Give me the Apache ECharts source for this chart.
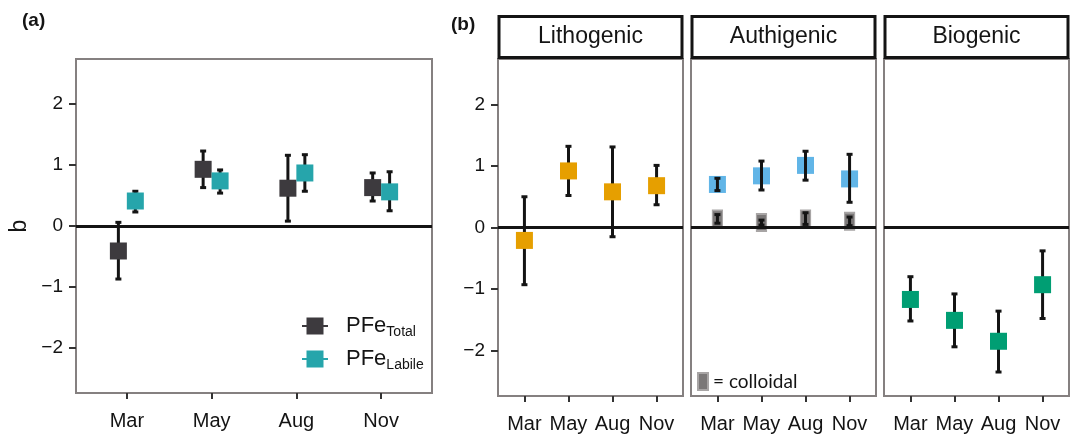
<!DOCTYPE html>
<html>
<head>
<meta charset="utf-8">
<script src="https://cdn.jsdelivr.net/npm/echarts@6/dist/echarts.min.js"></script>
<style>
  html, body { margin: 0; padding: 0; background: #fff; }
  #chart { width: 1080px; height: 437px; }
</style>
</head>
<body>
<div id="chart"></div>
<script>
var months = ['Mar', 'May', 'Aug', 'Nov'];
var yTicks = [-2, -1, 0, 1, 2];
var facets = ['Lithogenic', 'Authigenic', 'Biogenic'];

// (a) estimate b, lower and upper ends of the error bar
var totalB = [-0.41, 0.93, 0.62, 0.63];
var totalLo = [-0.87, 0.63, 0.08, 0.41];
var totalHi = [0.06, 1.23, 1.16, 0.87];
var labileB = [0.41, 0.74, 0.87, 0.56];
var labileLo = [0.23, 0.54, 0.57, 0.25];
var labileHi = [0.57, 0.92, 1.17, 0.89];

// (b) facets
var lithoB = [-0.21, 0.92, 0.58, 0.68];
var lithoLo = [-0.93, 0.52, -0.15, 0.37];
var lithoHi = [0.50, 1.32, 1.31, 1.01];
var authB = [0.70, 0.84, 1.01, 0.79];
var authLo = [0.60, 0.61, 0.77, 0.41];
var authHi = [0.80, 1.08, 1.24, 1.19];
var colloidB = [0.14, 0.08, 0.14, 0.10];
var colloidLo = [0.07, 0.04, 0.05, 0.03];
var colloidHi = [0.21, 0.12, 0.24, 0.17];
var bioB = [-1.17, -1.51, -1.85, -0.93];
var bioLo = [-1.52, -1.94, -2.35, -1.48];
var bioHi = [-0.80, -1.08, -1.36, -0.38];

var FONT = 'Liberation Sans, Arial, sans-serif';
var INK = '#141414';
var FRAME = '#858080';

// grid boxes: (a) then the three facets of (b)
var grids = [
    { left: 76, top: 59, width: 356, height: 334 },
    { left: 498, top: 59, width: 185, height: 337 },
    { left: 691, top: 59, width: 185, height: 337 },
    { left: 884, top: 59, width: 185, height: 337 }
];

function pts(vals, shift) {
    return vals.map(function (v, i) { return [i + 1 + shift, v]; });
}
function bars(lo, hi, shift) {
    return lo.map(function (v, i) { return [i + 1 + shift, v, hi[i]]; });
}

function errorBar(params, api) {
    var lo = api.coord([api.value(0), api.value(1)]);
    var hi = api.coord([api.value(0), api.value(2)]);
    var st = { stroke: INK, lineWidth: 3 };
    return {
        type: 'group',
        children: [
            { type: 'line', shape: { x1: lo[0], y1: lo[1], x2: hi[0], y2: hi[1] }, style: st },
            { type: 'line', shape: { x1: lo[0] - 3, y1: lo[1], x2: lo[0] + 3, y2: lo[1] }, style: st },
            { type: 'line', shape: { x1: hi[0] - 3, y1: hi[1], x2: hi[0] + 3, y2: hi[1] }, style: st }
        ]
    };
}

var zeroLine = {
    silent: true,
    symbol: 'none',
    label: { show: false },
    lineStyle: { color: INK, width: 3, type: 'solid' },
    data: [{ yAxis: 0 }]
};

function errSeries(g, lo, hi, shift, z, withZero) {
    var s = {
        type: 'custom',
        xAxisIndex: g,
        yAxisIndex: g,
        z: z,
        renderItem: errorBar,
        data: bars(lo, hi, shift)
    };
    if (withZero) s.markLine = zeroLine;
    return s;
}

function dotSeries(name, g, vals, shift, style, size, z) {
    style.opacity = 1;
    return {
        name: name,
        type: 'scatter',
        xAxisIndex: g,
        yAxisIndex: g,
        z: z,
        symbol: 'rect',
        symbolSize: size,
        itemStyle: style,
        data: pts(vals, shift)
    };
}

var xAxes = grids.map(function (g, i) {
    return {
        gridIndex: i,
        type: 'value',
        min: 0.4,
        max: 4.6,
        splitLine: { show: false },
        axisLine: { show: false, onZero: false },
        axisTick: { customValues: [1, 2, 3, 4], length: 6, lineStyle: { color: '#333', width: 2 } },
        axisLabel: {
            customValues: [1, 2, 3, 4],
            formatter: function (v) { return months[v - 1]; },
            fontSize: 20, color: INK, fontFamily: FONT, margin: 18
        }
    };
});

var yAxes = grids.map(function (g, i) {
    return {
        gridIndex: i,
        type: 'value',
        min: -2.74,
        max: 2.74,
        name: i === 0 ? 'b' : '',
        nameLocation: 'middle',
        nameRotate: 90,
        nameGap: 45,
        nameTextStyle: { fontSize: 23, color: INK, fontFamily: FONT },
        splitLine: { show: false },
        axisLine: { show: false, onZero: false },
        axisTick: { show: i < 2, customValues: yTicks, length: 7, lineStyle: { color: '#333', width: 2 } },
        axisLabel: {
            show: i < 2,
            customValues: yTicks,
            formatter: function (v) { return v < 0 ? '\u2212' + Math.abs(v) : String(v); },
            fontSize: 19, color: INK, fontFamily: FONT, margin: 13
        }
    };
});

var keyIcon = 'path://M0,7.5H4.5V0H21.5V7.5H26V9.5H21.5V17H4.5V9.5H0Z';

var graphics = [
    { type: 'text', x: 22, y: 11, style: { text: '(a)', font: 'bold 19px ' + FONT, fill: INK } },
    { type: 'text', x: 451, y: 15, style: { text: '(b)', font: 'bold 19px ' + FONT, fill: INK } }
];
facets.forEach(function (f, i) {
    var g = grids[i + 1];
    graphics.push({
        type: 'rect',
        shape: { x: g.left + 1, y: 16.5, width: g.width - 2, height: 41 },
        style: { fill: '#fff', stroke: INK, lineWidth: 3 }
    });
    graphics.push({
        type: 'text',
        x: g.left + g.width / 2,
        y: 37,
        style: { text: f, font: '23px ' + FONT, fill: INK, align: 'center', verticalAlign: 'middle' }
    });
});

var chart = echarts.init(document.getElementById('chart'));
chart.setOption({
    animation: false,
    textStyle: { fontFamily: FONT },
    grid: grids.map(function (g) {
        return { left: g.left, top: g.top, width: g.width, height: g.height, show: true,
                 borderColor: FRAME, borderWidth: 2, backgroundColor: 'transparent' };
    }),
    xAxis: xAxes,
    yAxis: yAxes,
    legend: [
        {
            left: 302, top: 313, orient: 'vertical', padding: 0, itemGap: 7,
            itemWidth: 26, itemHeight: 17, selectedMode: false,
            data: [{ name: 'PFe_Total', icon: keyIcon }, { name: 'PFe_Labile', icon: keyIcon }],
            formatter: function (name) { return '{m|PFe}{s|' + name.split('_')[1] + '}'; },
            textStyle: {
                color: INK,
                rich: {
                    m: { fontSize: 22, lineHeight: 22, verticalAlign: 'top', padding: [0, 0, 0, 13], color: INK, fontFamily: FONT },
                    s: { fontSize: 14, lineHeight: 14, padding: [12, 0, 0, 0], color: INK, fontFamily: FONT }
                }
            }
        },
        {
            left: 697, top: 372, padding: 0, itemWidth: 10, itemHeight: 17, selectedMode: false,
            data: [{ name: '= colloidal', icon: 'rect' }],
            textStyle: { fontSize: 19, color: INK, fontFamily: 'Lato, sans-serif' }
        }
    ],
    graphic: graphics,
    series: [
        // (a)
        errSeries(0, totalLo, totalHi, -0.1, 1, true),
        errSeries(0, labileLo, labileHi, 0.1, 1, false),
        dotSeries('PFe_Total', 0, totalB, -0.1, { color: '#3d3a3e' }, 17, 2),
        dotSeries('PFe_Labile', 0, labileB, 0.1, { color: '#26a5ab' }, 17, 2),
        // Lithogenic
        errSeries(1, lithoLo, lithoHi, 0, 1, true),
        dotSeries('Lithogenic', 1, lithoB, 0, { color: '#e69f00' }, 17, 2),
        // Authigenic (bars drawn over the squares)
        dotSeries('= colloidal', 2, colloidB, 0, { color: '#7b7878', borderColor: '#a8a5a5', borderWidth: 1.5 }, [10, 17], 2),
        dotSeries('Authigenic', 2, authB, 0, { color: '#61b5e7' }, 17, 2),
        errSeries(2, authLo, authHi, 0, 3, true),
        errSeries(2, colloidLo, colloidHi, 0, 3, false),
        // Biogenic
        errSeries(3, bioLo, bioHi, 0, 1, true),
        dotSeries('Biogenic', 3, bioB, 0, { color: '#009e73' }, 17, 2)
    ]
});
</script>
</body>
</html>
